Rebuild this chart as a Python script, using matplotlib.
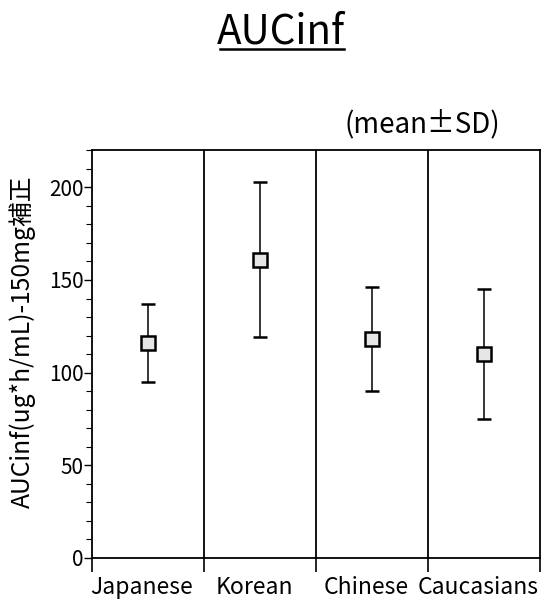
import matplotlib
matplotlib.use('Agg')
import matplotlib.pyplot as plt
import matplotlib.transforms as mtransforms
from matplotlib.lines import Line2D
import numpy as np

plt.rcParams['font.family'] = ['Noto Sans CJK JP', 'DejaVu Sans']

# data
groups = ['Japanese', 'Korean', 'Chinese', 'Caucasians']
means = [116, 161, 118, 110]
sds = [21, 42, 28, 35]

fig = plt.figure(figsize=(5.44, 6.01), dpi=100)
ax = fig.add_axes([0.169, 0.0716, 0.824, 0.6784])

x = np.arange(len(groups))
ax.errorbar(x, means, yerr=sds, fmt='s', color='black', ecolor='black',
            elinewidth=1.1, capsize=4.8, capthick=1.5,
            markersize=10.5, markerfacecolor='#e6e6e6', markeredgecolor='black',
            markeredgewidth=1.8)

# group dividers
for b in x[:-1] + 0.5:
    ax.axvline(b, color='black', lw=1.3)

ax.set_xlim(-0.5, len(groups) - 0.5)
ax.set_ylim(0, 220)
ax.set_xticks(x)
ax.set_xticklabels(groups, fontsize=16.5)
ax.set_xticks(np.arange(-0.5, len(groups), 1.0), minor=True)
ax.tick_params(axis='x', which='major', length=0, pad=13)
ax.tick_params(axis='x', which='minor', length=10, width=1.2, direction='out')
# labels sit a little left of the group centres in the original
shift = mtransforms.ScaledTranslation(-0.06, 0, fig.dpi_scale_trans)
for lab in ax.get_xticklabels():
    lab.set_transform(lab.get_transform() + shift)

ax.set_yticks([0, 50, 100, 150, 200])
ax.set_yticks(np.arange(0, 221, 10), minor=True)
ax.tick_params(axis='y', which='major', length=6, width=1.0, labelsize=15, pad=0)
ax.tick_params(axis='y', which='minor', length=4, width=0.8)
for s in ax.spines.values():
    s.set_linewidth(1.3)

ax.set_ylabel('AUCinf(ug*h/mL)-150mg補正', fontsize=17.8)
ax.yaxis.set_label_coords(-0.125, 0.53)

fig.text(0.92, 0.768, '(mean±SD)', fontsize=20, ha='right', va='bottom')
title = fig.text(0.517, 0.912, 'AUCinf', fontsize=29, ha='center', va='bottom')

# underline under the title
fig.canvas.draw()
bb = title.get_window_extent().transformed(fig.transFigure.inverted())
fig.add_artist(Line2D([bb.x0 + 0.005, bb.x1 - 0.003], [bb.y0 + 0.006, bb.y0 + 0.006],
                      transform=fig.transFigure, color='black', lw=1.8))

fig.savefig('out.png', dpi=100)
